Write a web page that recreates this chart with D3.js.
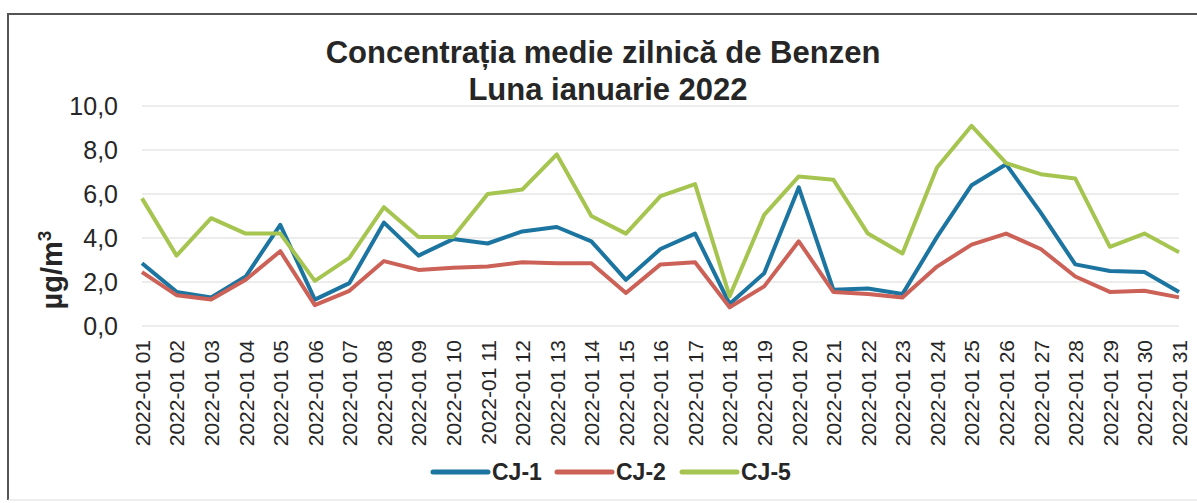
<!DOCTYPE html>
<html lang="ro">
<head>
<meta charset="utf-8" />
<title>Benzen ianuarie 2022</title>
<script src="https://cdnjs.cloudflare.com/ajax/libs/d3/7.8.5/d3.min.js"></script>
<style>
    body { margin: 0; background: #fff; }
    svg { display: block; font-family: "Liberation Sans", Arial, sans-serif; }
</style>
</head>
<body>
<div id="chart"></div>
<script>
    // data
    const days = d3.range(1, 32).map(d => "2022-01 " + String(d).padStart(2, "0"));
    const cj1 = [2.85, 1.55, 1.3, 2.25, 4.6, 1.2, 1.95, 4.7, 3.2, 3.95, 3.75, 4.3, 4.5, 3.85, 2.1, 3.5, 4.2, 1.0, 2.4, 6.3, 1.65, 1.7, 1.45, 4.05, 6.4, 7.35, 5.15, 2.8, 2.5, 2.45, 1.55];
    const cj2 = [2.45, 1.4, 1.2, 2.1, 3.4, 0.95, 1.6, 2.95, 2.55, 2.65, 2.7, 2.9, 2.85, 2.85, 1.5, 2.8, 2.9, 0.85, 1.8, 3.85, 1.55, 1.45, 1.3, 2.7, 3.7, 4.2, 3.5, 2.25, 1.55, 1.6, 1.3];
    const cj5 = [5.8, 3.2, 4.9, 4.2, 4.2, 2.05, 3.1, 5.4, 4.05, 4.05, 6.0, 6.2, 7.8, 5.0, 4.2, 5.9, 6.45, 1.35, 5.05, 6.8, 6.65, 4.2, 3.3, 7.2, 9.1, 7.4, 6.9, 6.7, 3.6, 4.2, 3.35];
    const yTicks = [0, 2, 4, 6, 8, 10];
    const seriesNames = ["CJ-1", "CJ-2", "CJ-5"];
    const seriesColors = ["#1c75a0", "#cc6157", "#a6c550"];
    const seriesData = [cj1, cj2, cj5];

    const width = 1197, height = 503;

    const svg = d3.select("#chart").append("svg")
        .attr("width", width)
        .attr("height", height);

    // outer frame
    svg.append("path")
        .attr("d", "M8,500 L8,14 L1197,14")
        .attr("fill", "none")
        .attr("stroke", "#555")
        .attr("stroke-width", 2);
    svg.append("line")
        .attr("x1", 8).attr("x2", 1197).attr("y1", 500).attr("y2", 500)
        .attr("stroke", "#ddd").attr("stroke-width", 1);

    const x = d3.scalePoint().domain(days).range([142, 1179]).padding(0);
    const y = d3.scaleLinear().domain([0, 10]).range([326, 106]);

    // gridlines
    svg.append("g")
        .selectAll("line")
        .data(yTicks)
        .join("line")
        .attr("x1", 142).attr("x2", 1179)
        .attr("y1", d => y(d)).attr("y2", d => y(d))
        .attr("stroke", "#d9d9d9")
        .attr("stroke-width", 1);

    // y axis
    const yAxis = svg.append("g")
        .attr("transform", "translate(142,0)")
        .call(d3.axisLeft(y).tickValues(yTicks).tickSize(0).tickPadding(24)
            .tickFormat(d => d3.format(".1f")(d).replace(".", ",")));
    yAxis.select(".domain").remove();
    yAxis.selectAll("text")
        .attr("font-size", 25)
        .attr("fill", "#262626")
        .attr("font-family", "Liberation Sans, Arial, sans-serif");

    // x axis
    const xAxis = svg.append("g")
        .attr("transform", "translate(0,326)")
        .call(d3.axisBottom(x).tickSize(0));
    xAxis.select(".domain").remove();
    xAxis.selectAll("text")
        .attr("font-size", 21)
        .attr("fill", "#262626")
        .attr("font-family", "Liberation Sans, Arial, sans-serif")
        .attr("text-anchor", "end")
        .attr("dy", "0.35em")
        .attr("transform", "translate(0,14) rotate(-90)")
        .attr("x", 0)
        .attr("y", 0);

    // lines
    const line = d3.line()
        .x((d, i) => x(days[i]))
        .y(d => y(d));

    svg.append("g")
        .selectAll("path")
        .data(seriesData)
        .join("path")
        .attr("d", line)
        .attr("fill", "none")
        .attr("stroke", (d, i) => seriesColors[i])
        .attr("stroke-width", 4)
        .attr("stroke-linejoin", "round");

    // titles
    const title = svg.append("g")
        .attr("font-weight", "bold")
        .attr("font-size", 31)
        .attr("fill", "#262626")
        .attr("text-anchor", "middle");
    title.append("text").attr("x", 603).attr("y", 63).text("Concentrația medie zilnică de Benzen");
    title.append("text").attr("x", 608).attr("y", 100).text("Luna ianuarie 2022");

    svg.append("text")
        .attr("transform", "translate(62,270) rotate(-90)")
        .attr("text-anchor", "middle")
        .attr("font-weight", "bold")
        .attr("font-size", 29)
        .attr("fill", "#262626")
        .html("µg/m<tspan dy='-11' font-size='19'>3</tspan>");

    // legend
    const legendX = [433, 557, 682];
    const legend = svg.append("g")
        .selectAll("g")
        .data(seriesNames)
        .join("g")
        .attr("transform", (d, i) => `translate(${legendX[i]},472)`);
    legend.append("line")
        .attr("x1", 0).attr("x2", 55)
        .attr("stroke", (d, i) => seriesColors[i])
        .attr("stroke-width", 5)
        .attr("stroke-linecap", "round");
    legend.append("text")
        .attr("x", 59)
        .attr("dy", "0.36em")
        .attr("font-weight", "bold")
        .attr("font-size", 23)
        .attr("fill", "#262626")
        .text(d => d);
</script>
</body>
</html>
